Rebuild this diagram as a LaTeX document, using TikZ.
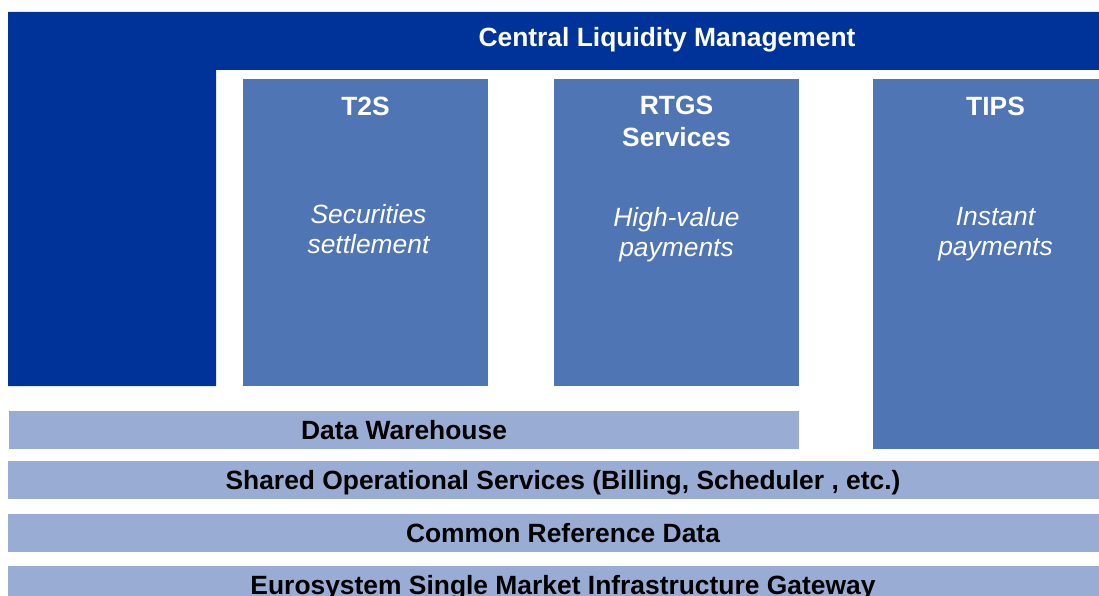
\documentclass[tikz,border=0pt]{standalone}
\usepackage{fontspec}
\setmainfont{Liberation Sans}
\definecolor{clmblue}{RGB}{0, 51, 153}
\definecolor{tileblue}{RGB}{79, 117, 181}
\definecolor{layerblue}{RGB}{153, 173, 212}
\usetikzlibrary{positioning}

\begin{document}
\begin{tikzpicture}[
  x=1pt, y=-1pt,
  tile/.style={fill=tileblue, inner sep=0pt, minimum width=245pt},
  tilehead/.style={text=white, font=\fontsize{26.4}{32}\selectfont\bfseries, align=center, inner sep=0pt, anchor=north},
  tiledesc/.style={text=white, font=\fontsize{26.4}{30}\selectfont\itshape, align=center, inner sep=0pt, anchor=north},
  layer/.style={fill=layerblue, inner sep=0pt, minimum height=38pt, text height=19pt, text depth=0pt, font=\fontsize{26.4}{31}\selectfont\bfseries}
]
  \useasboundingbox (0,0) rectangle (1099,596);
  \clip (0,0) rectangle (1099,596);
  % central liquidity management
  \fill[clmblue] (8,12) -| (1118,70) -| (216,386) -| cycle;
  \node[text=white, font=\fontsize{26.4}{31}\selectfont\bfseries, inner sep=0pt, anchor=base] (clm) at (667,47) {Central Liquidity Management};

  % settlement services
  \node[tile, minimum height=307pt] (t2s) at (365.5,232.5) {};
  \node[tile, minimum height=307pt] (rtgs) at (676.5,232.5) {};
  \node[tile, minimum height=370pt] (tips) at (995.5,264) {};
  \node[tilehead] (t2shead) at ([yshift=-18pt]t2s.north) {T2S};
  \node[tilehead] (rtgshead) at ([yshift=-17pt]rtgs.north) {RTGS\\Services};
  \node[tilehead] (tipshead) at ([yshift=-18pt]tips.north) {TIPS};
  \node[tiledesc] (t2sdesc) at ([xshift=3pt,yshift=-125pt]t2s.north) {Securities\\settlement};
  \node[tiledesc] (rtgsdesc) at ([yshift=-128pt]rtgs.north) {High-value\\payments};
  \node[tiledesc] (tipsdesc) at ([yshift=-128pt]tips.north) {Instant\\payments};

  % common layers
  \node[layer, minimum width=790pt] (dwh) at (404,430) {Data Warehouse};
  \node[layer, minimum width=1110pt] (sos) at (563,480) {Shared Operational Services (Billing, Scheduler , etc.)};
  \node[layer, minimum width=1110pt] (crd) at (563,533) {Common Reference Data};
  \node[layer, minimum width=1110pt] (esmig) at (563,585) {Eurosystem Single Market Infrastructure Gateway};
\end{tikzpicture}
\end{document}
